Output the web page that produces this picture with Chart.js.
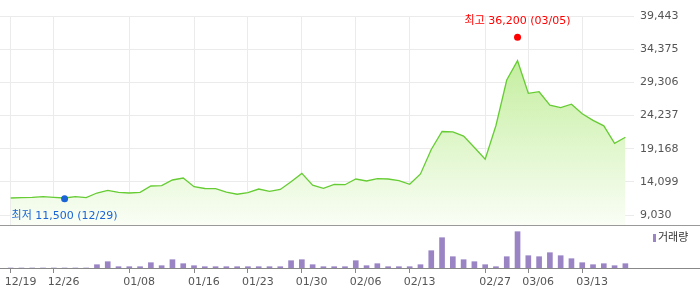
<!DOCTYPE html>
<html>
<head>
<meta charset="utf-8">
<script src="https://cdn.jsdelivr.net/npm/chart.js@4.4.1/dist/chart.umd.min.js"></script>
<style>
  body { margin: 0; background: #fff; }
  #wrap { position: relative; width: 700px; height: 289px; }
  #price { position: absolute; left: 0; top: 0; }
  #sep { position: absolute; left: 0; top: 225px; width: 700px; height: 1px; background: #999; }
  #vol { position: absolute; left: 0; top: 226px; }
</style>
</head>
<body>
<div id="wrap">
  <canvas id="price" width="700" height="225" style="width:700px;height:225px"></canvas>
  <div id="sep"></div>
  <canvas id="vol" width="700" height="63" style="width:700px;height:63px"></canvas>
</div>
<script>
// trading days (one per point)
const dates = [
  '12/19','12/20','12/21','12/22','12/26','12/29','01/02','01/03','01/04','01/05',
  '01/06','01/08','01/09','01/10','01/11','01/12','01/13','01/16','01/17','01/18',
  '01/19','01/20','01/23','01/24','01/25','01/26','01/27','01/30','01/31','02/01',
  '02/02','02/03','02/06','02/07','02/08','02/09','02/10','02/13','02/14','02/15',
  '02/16','02/17','02/20','02/24','02/27','02/28','03/02','03/05','03/06','03/07',
  '03/08','03/09','03/10','03/13','03/14','03/15','03/16','03/17'
];

// closing price
const closes = [
  11630, 11700, 11730, 11830, 11730, 11630, 11830, 11680, 12390, 12800,
  12500, 12390, 12500, 13460, 13510, 14380, 14680, 13350, 13080, 13050,
  12540, 12200, 12440, 13000, 12650, 12930, 14120, 15390, 13580, 13110,
  13720, 13660, 14530, 14230, 14580, 14530, 14270, 13720, 15300, 19040,
  21790, 21720, 21100, 19350, 17560, 22710, 29660, 32610, 27630, 27870,
  25810, 25430, 25960, 24500, 23500, 22660, 19990, 20920
];

// volume (shares)
const volumes = [
  0, 0, 0, 0, 0, 0, 0, 0, 165000, 315000,
  65000, 65000, 65000, 265000, 115000, 415000, 215000, 115000, 65000, 65000,
  65000, 65000, 65000, 65000, 65000, 65000, 365000, 415000, 165000, 65000,
  65000, 65000, 365000, 115000, 215000, 65000, 65000, 65000, 165000, 865000,
  1515000, 565000, 415000, 315000, 165000, 65000, 565000, 1815000, 615000, 565000,
  765000, 615000, 465000, 265000, 165000, 215000, 115000, 215000
];

const yTicks = [9030, 14099, 19168, 24237, 29306, 34375, 39443];
const xTickDates = ['12/19','12/26','01/08','01/16','01/23','01/30','02/06','02/13','02/27','03/06','03/13'];

// intraday high / low markers
const extremeDates = ['03/05', '12/29'];
const extremeValues = [36200, 11500];
const extremeNames = ['최고', '최저'];
const extremeColors = ['#ff0000', '#1a64d6'];

const FONT = { family: 'DejaVu Sans', size: 11 };
const X_MIN = -0.99, X_MAX = 57.8;
const fmt = v => Number(v).toLocaleString('en-US');

const setXTicks = s => { s.ticks = xTickDates.map(d => ({ value: dates.indexOf(d) })); };
const noSidePad = s => { s.paddingLeft = 0; s.paddingRight = 0; };

const extremeLabels = {
  id: 'extremeLabels',
  afterDatasetsDraw(chart) {
    const meta = chart.getDatasetMeta(1);
    const ctx = chart.ctx;
    ctx.save();
    ctx.font = '11px "DejaVu Sans", "Noto Sans CJK KR"';
    ctx.textAlign = 'center';
    ctx.textBaseline = 'middle';
    meta.data.forEach((pt, i) => {
      ctx.fillStyle = extremeColors[i];
      const dy = i === 0 ? -16 : 17;
      ctx.fillText(extremeNames[i] + ' ' + fmt(extremeValues[i]) + ' (' + extremeDates[i] + ')', pt.x, pt.y + dy);
    });
    ctx.restore();
  }
};

new Chart(document.getElementById('price'), {
  type: 'line',
  data: {
    datasets: [
      {
        data: closes.map((v, i) => ({ x: i, y: v })),
        order: 1,
        borderColor: '#66cc33',
        borderWidth: 1.3,
        pointRadius: 0,
        tension: 0,
        fill: 'start',
        backgroundColor: c => {
          const a = c.chart.chartArea;
          if (!a) return 'rgba(0,0,0,0)';
          const g = c.chart.ctx.createLinearGradient(0, a.top, 0, a.bottom);
          g.addColorStop(0, '#b6ea88');
          g.addColorStop(1, '#fafef6');
          return g;
        }
      },
      {
        type: 'scatter',
        order: 0,
        data: extremeDates.map((d, i) => ({ x: dates.indexOf(d), y: extremeValues[i] })),
        pointBackgroundColor: extremeColors,
        pointBorderWidth: 0,
        pointRadius: 3.5
      }
    ]
  },
  options: {
    responsive: false,
    animation: false,
    layout: { autoPadding: false, padding: { top: 16, left: 0, right: 0, bottom: 0 } },
    plugins: { legend: { display: false }, tooltip: { enabled: false } },
    scales: {
      x: {
        type: 'linear', min: X_MIN, max: X_MAX,
        afterBuildTicks: setXTicks,
        afterFit: s => { s.height = 0; noSidePad(s); },
        grid: { color: '#ebebeb', drawTicks: false },
        border: { display: false },
        ticks: { display: false }
      },
      y: {
        position: 'right', min: 7502, max: 39443,
        afterBuildTicks: s => { s.ticks = yTicks.map(v => ({ value: v })); },
        afterFit: s => { s.width = 66; s.paddingTop = 0; s.paddingBottom = 0; },
        grid: { color: '#ebebeb', drawTicks: false },
        border: { display: false },
        ticks: { padding: 6, color: '#555', font: FONT, callback: v => fmt(v) }
      }
    }
  },
  plugins: [extremeLabels]
});

const volExtras = {
  id: 'volExtras',
  afterDraw(chart) {
    const ctx = chart.ctx;
    const a = chart.chartArea;
    ctx.save();
    ctx.strokeStyle = '#888';
    ctx.lineWidth = 1;
    ctx.beginPath();
    ctx.moveTo(0, a.bottom + 0.5);
    ctx.lineTo(chart.width, a.bottom + 0.5);
    ctx.stroke();
    // legend
    ctx.fillStyle = chart.data.datasets[0].backgroundColor;
    ctx.fillRect(653, 8, 3, 8);
    ctx.fillStyle = '#333';
    ctx.font = '11px "DejaVu Sans", "Noto Sans CJK KR"';
    ctx.textBaseline = 'middle';
    ctx.fillText(chart.data.datasets[0].label, 658, 12);
    ctx.restore();
  }
};

new Chart(document.getElementById('vol'), {
  type: 'bar',
  data: {
    datasets: [{
      label: '거래량',
      data: volumes.map((v, i) => ({ x: i, y: v })),
      backgroundColor: '#9a84c4',
      barThickness: 5
    }]
  },
  options: {
    responsive: false,
    animation: false,
    layout: { autoPadding: false, padding: 0 },
    plugins: { legend: { display: false }, tooltip: { enabled: false } },
    scales: {
      x: {
        type: 'linear', min: X_MIN, max: X_MAX, offset: false,
        afterBuildTicks: setXTicks,
        afterFit: s => { s.height = 21; noSidePad(s); },
        grid: { offset: false, drawOnChartArea: false, tickLength: 5, color: '#888' },
        border: { display: false },
        ticks: { color: '#555', font: FONT, padding: 3, maxRotation: 0, autoSkip: false, align: 'start', labelOffset: -6, callback: v => dates[v] }
      },
      y: {
        position: 'right', min: 0, max: 2100000,
        afterFit: s => { s.width = 66; s.paddingTop = 0; s.paddingBottom = 0; },
        grid: { display: false },
        border: { display: false },
        ticks: { display: false }
      }
    }
  },
  plugins: [volExtras]
});
</script>
</body>
</html>
